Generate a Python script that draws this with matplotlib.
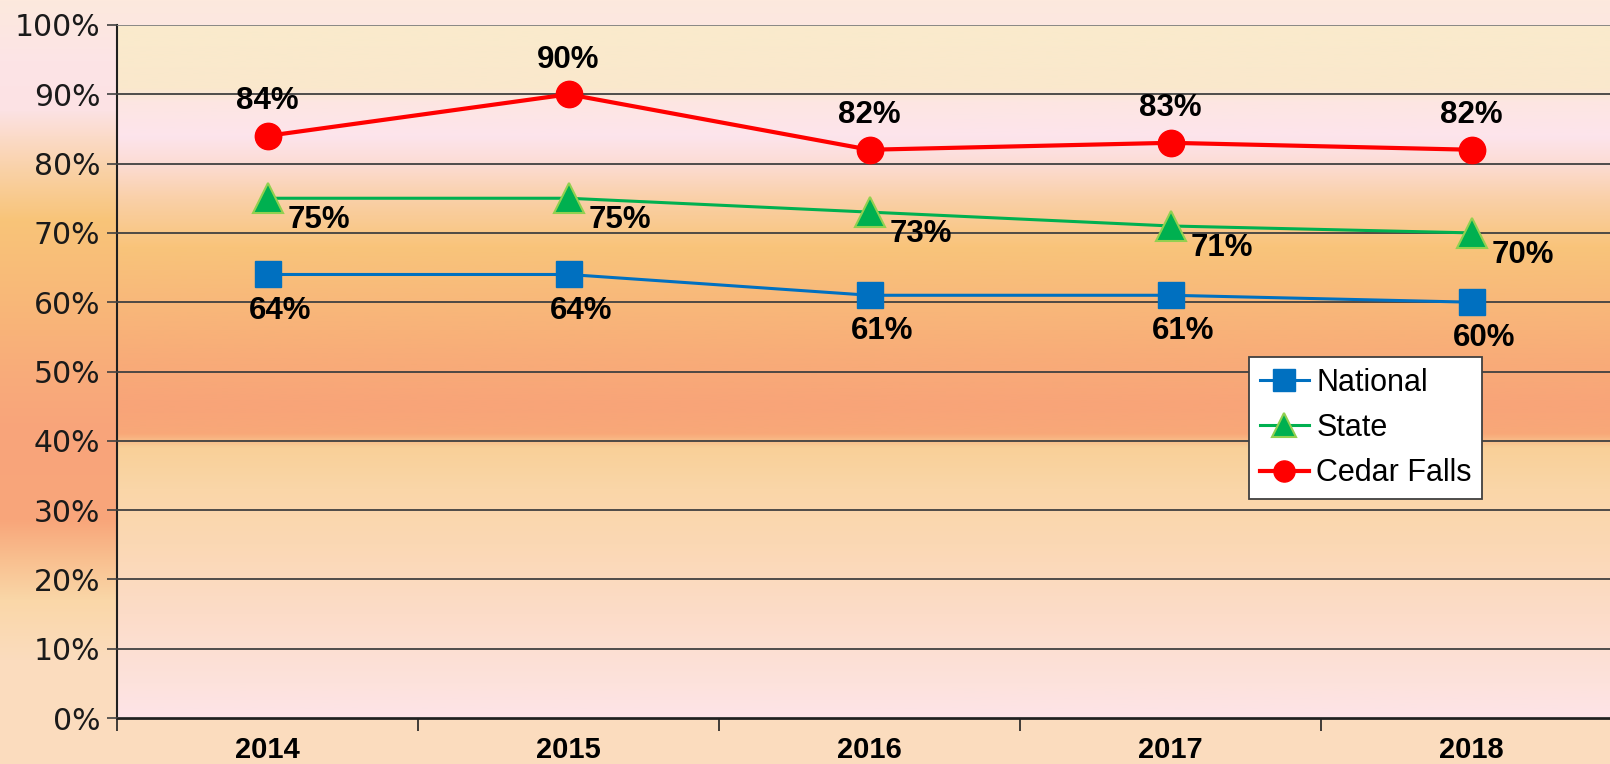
import numpy as np
import matplotlib
matplotlib.use("Agg")
import matplotlib.pyplot as plt
from matplotlib.colors import to_rgb

years = ["2014", "2015", "2016", "2017", "2018"]
national = [64, 64, 61, 61, 60]
state = [75, 75, 73, 71, 70]
cedar_falls = [84, 90, 82, 83, 82]
series_names = ["National", "State", "Cedar Falls"]
y_ticks = list(range(0, 101, 10))

W, H = 1610, 764
fig = plt.figure(figsize=(W / 100, H / 100), dpi=100)

# figure background gradient (pixel rows from top -> colour)
bg_stops = [(0, "#fde9dd"), (60, "#fce4e6"), (110, "#fce2e4"), (160, "#fad4b0"),
            (220, "#f8c478"), (300, "#f8b878"), (370, "#f8ac7a"), (430, "#f8a47a"),
            (520, "#f8a67a"), (560, "#f9c090"), (600, "#fad7a8"), (660, "#fbdcbe"),
            (764, "#fbdcbe")]
rows = np.arange(H)
bg = np.zeros((H, 1, 3))
for c in range(3):
    bg[:, 0, c] = np.interp(rows, [s[0] for s in bg_stops], [to_rgb(s[1])[c] for s in bg_stops])
bax = fig.add_axes([0, 0, 1, 1], zorder=-10)
bax.imshow(bg, aspect="auto", extent=(0, 1, 0, 1), origin="upper")
bax.axis("off")

left, right, top, bottom = 117, 1622, 25, 718
ax = fig.add_axes([left / W, (H - bottom) / H, (right - left) / W, (bottom - top) / H])
ax.set_facecolor("none")

# plot-area gradient (value -> colour)
pa_stops = [(0, "#fde4e8"), (5, "#fde2dc"), (15, "#fcdcc8"), (25, "#fbd8b4"),
            (33, "#fad6a8"), (39, "#f9d098"), (41, "#f8a878"), (45, "#f8a478"),
            (52, "#f8ac78"), (60, "#f8b87a"), (68, "#f9c47a"), (75, "#fad0a8"),
            (80, "#fcdcd4"), (84, "#fde4ec"), (89, "#fde6e2"), (91, "#fae8cc"),
            (100, "#faebcc")]
vals = np.linspace(0, 100, 500)
pa = np.zeros((500, 1, 3))
for c in range(3):
    pa[:, 0, c] = np.interp(vals, [s[0] for s in pa_stops], [to_rgb(s[1])[c] for s in pa_stops])
x = np.arange(len(years))
ax.imshow(pa, aspect="auto", extent=(-0.5, len(years) - 0.5, 0, 100), origin="lower", zorder=0)

ax.set_xlim(-0.5, len(years) - 0.5)
ax.set_ylim(0, 100)
ax.set_yticks(y_ticks)
ax.set_yticklabels([f"{v}%" for v in y_ticks], fontsize=21.5, family="DejaVu Sans", color="#1a1a1a")
ax.yaxis.grid(True, color="#404040", lw=1.3, zorder=1)
ax.get_ygridlines()[-1].set_color("#808080")
ax.set_axisbelow(False)
ax.tick_params(axis="y", direction="out", length=7, width=1.2, color="#404040", pad=5)

ax.set_xticks(x)
ax.set_xticklabels(years, fontsize=21, fontweight="bold", family="Liberation Sans")
ax.set_xticks(np.arange(-0.5, len(years) + 0.5, 1), minor=True)
ax.tick_params(axis="x", which="major", length=0, pad=13)
ax.tick_params(axis="x", which="minor", direction="out", length=9, width=1.2, color="#202020")

for s in ["top", "right"]:
    ax.spines[s].set_visible(False)
ax.spines["left"].set_color("#202020")
ax.spines["left"].set_linewidth(1.5)
ax.spines["bottom"].set_color("#202020")
ax.spines["bottom"].set_linewidth(2)

l1, = ax.plot(x, national, color="#0070c0", lw=2.2, marker="s", ms=19, mfc="#0070c0",
              mec="#0070c0", zorder=5, label=series_names[0])
l2, = ax.plot(x, state, color="#00b050", lw=2.2, marker="^", ms=21, mfc="#00b050",
              mec="#92d050", mew=1.5, zorder=5, label=series_names[1])
l3, = ax.plot(x, cedar_falls, color="#ff0000", lw=3, marker="o", ms=19, mfc="#ff0000",
              mec="#ff0000", zorder=5, label=series_names[2])

lab_kw = dict(textcoords="offset points", fontsize=22.5, fontweight="bold",
              family="Liberation Sans", ha="center", va="center", zorder=6)
for xi, v in zip(x, cedar_falls):
    ax.annotate(f"{v}%", (xi, v), xytext=(0, 25), **lab_kw)
for xi, v in zip(x, state):
    ax.annotate(f"{v}%", (xi, v), xytext=(37, -16), **lab_kw)
for xi, v in zip(x, national):
    ax.annotate(f"{v}%", (xi, v), xytext=(9, -26), **lab_kw)

leg = fig.legend(handles=[l1, l2, l3], loc="upper left",
                 bbox_to_anchor=(1249 / W, 1 - 357 / H), borderaxespad=0,
                 prop={"family": "Liberation Sans", "size": 22},
                 fancybox=False, framealpha=1, edgecolor="#404040",
                 handlelength=1.6, handletextpad=0.25, labelspacing=0.5,
                 borderpad=0.35, markerscale=0.8)
leg.get_frame().set_linewidth(1.3)

fig.savefig("out.png", dpi=100)
